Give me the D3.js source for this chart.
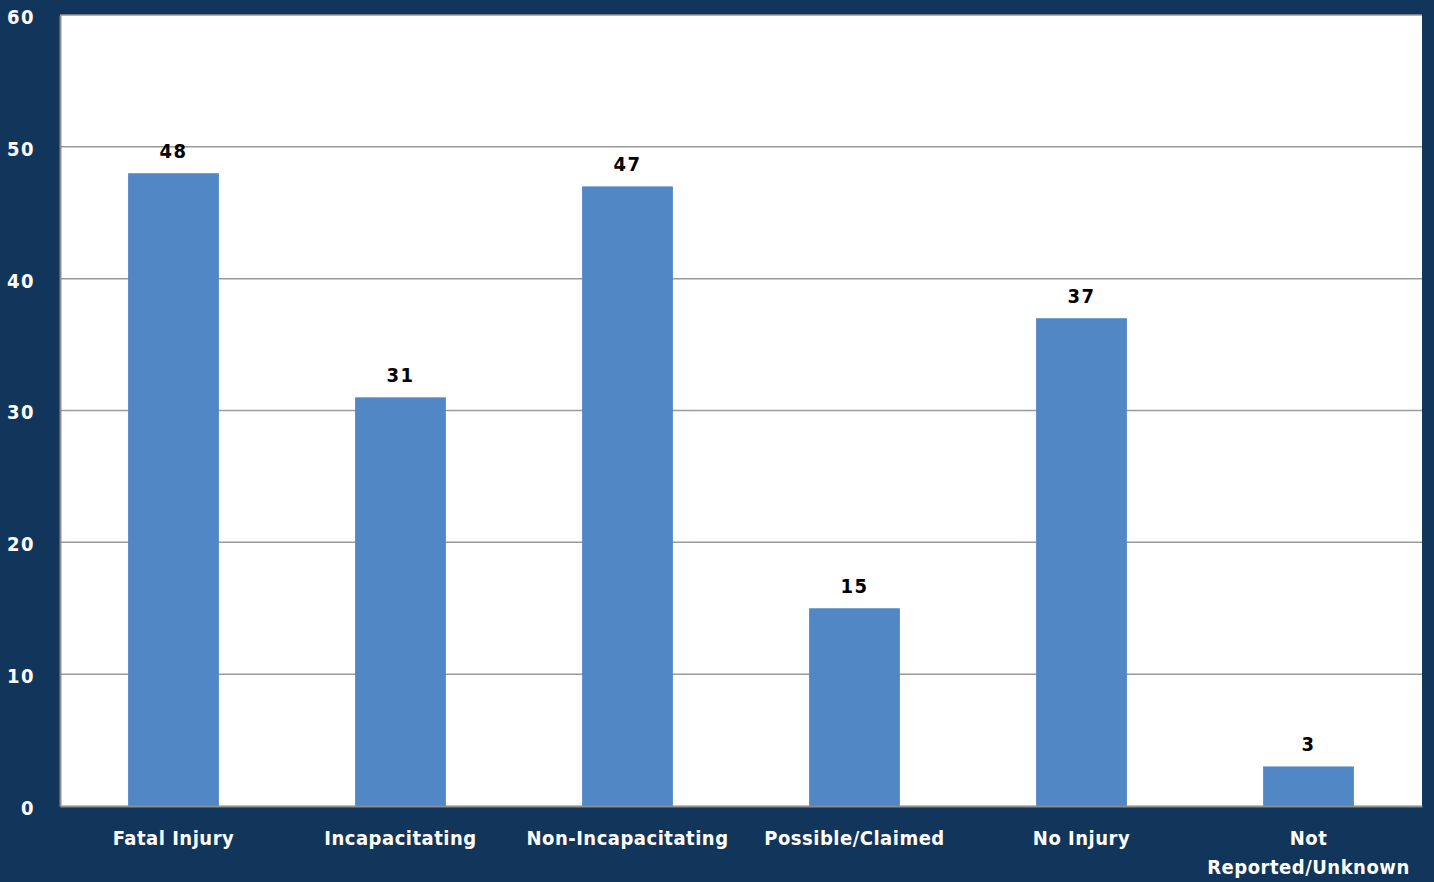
<!DOCTYPE html>
<html>
<head>
<meta charset="utf-8">
<script src="https://cdn.jsdelivr.net/npm/d3@7"></script>
<style>
  body { margin: 0; background: #12355b; }
  svg { display: block; }
  text { font-family: "DejaVu Sans Condensed", "DejaVu Sans", Verdana, sans-serif; font-weight: bold; }
</style>
</head>
<body>
<svg></svg>
<script>
let width = 1434;
let height = 882;

let categories = ['Fatal Injury', 'Incapacitating', 'Non-Incapacitating', 'Possible/Claimed', 'No Injury', 'Not Reported/Unknown'];
let counts = [48, 31, 47, 15, 37, 3];
let yTicks = [0, 10, 20, 30, 40, 50, 60];

let margin = {top: 15, right: 12, bottom: 76, left: 60};

let svg = d3.select('svg')
            .attr('width', width)
            .attr('height', height);

svg.append('rect')
   .attr('width', width)
   .attr('height', height)
   .attr('fill', '#12355b');

let x = d3.scaleBand()
          .domain(categories)
          .range([margin.left, width - margin.right])
          .paddingInner(0.6)
          .paddingOuter(0.3);

let y = d3.scaleLinear()
          .domain([0, 60])
          .range([height - margin.bottom, margin.top]);

// plot area
svg.append('rect')
   .attr('x', margin.left)
   .attr('y', margin.top)
   .attr('width', width - margin.right - margin.left)
   .attr('height', height - margin.bottom - margin.top)
   .attr('fill', 'white');

// gridlines
svg.append('g')
   .selectAll('line')
   .data(yTicks.filter(d => d > 0))
   .enter()
   .append('line')
   .attr('x1', margin.left)
   .attr('x2', width - margin.right)
   .attr('y1', d => y(d))
   .attr('y2', d => y(d))
   .attr('stroke', '#9a9a9a')
   .attr('stroke-width', 1.5);

// y axis
let yAxis = svg.append('g')
   .attr('transform', `translate(${margin.left},0)`)
   .call(d3.axisLeft(y).tickValues(yTicks).tickSize(0).tickPadding(25));
yAxis.select('.domain').attr('stroke', '#8c8c8c').attr('stroke-width', 2);
yAxis.selectAll('text')
     .attr('fill', 'white')
     .attr('font-size', 20)
     .attr('letter-spacing', 1.5)
     .attr('dy', '0.42em')
     .attr('font-family', null);

// bars
svg.append('g')
   .selectAll('rect')
   .data(counts)
   .enter()
   .append('rect')
   .attr('x', (d, i) => x(categories[i]))
   .attr('y', d => y(d))
   .attr('width', x.bandwidth())
   .attr('height', d => y(0) - y(d))
   .attr('fill', '#5287c6');

// value labels
svg.append('g')
   .selectAll('text')
   .data(counts)
   .enter()
   .append('text')
   .attr('x', (d, i) => x(categories[i]) + x.bandwidth() / 2)
   .attr('y', d => y(d) - 15)
   .attr('text-anchor', 'middle')
   .attr('font-size', 20)
   .attr('letter-spacing', 1.5)
   .attr('fill', 'black')
   .text(d => d);

// x axis
let xAxis = svg.append('g')
   .attr('transform', `translate(0,${height - margin.bottom})`)
   .call(d3.axisBottom(x).tickSize(0).tickFormat(''));
xAxis.select('.domain').attr('stroke', '#8c8c8c').attr('stroke-width', 2);

let xLabels = {
  'Not Reported/Unknown': ['Not', 'Reported/Unknown']
};

svg.append('g')
   .selectAll('text')
   .data(categories)
   .enter()
   .append('text')
   .attr('x', d => x(d) + x.bandwidth() / 2)
   .attr('y', height - margin.bottom + 39)
   .attr('text-anchor', 'middle')
   .attr('font-size', 20)
   .attr('letter-spacing', 0.5)
   .attr('fill', 'white')
   .each(function(d) {
     let lines = xLabels[d] || [d];
     d3.select(this).selectAll('tspan')
       .data(lines)
       .enter()
       .append('tspan')
       .attr('x', x(d) + x.bandwidth() / 2)
       .attr('dy', (l, i) => i === 0 ? 0 : 29)
       .text(l => l);
   });
</script>
</body>
</html>
